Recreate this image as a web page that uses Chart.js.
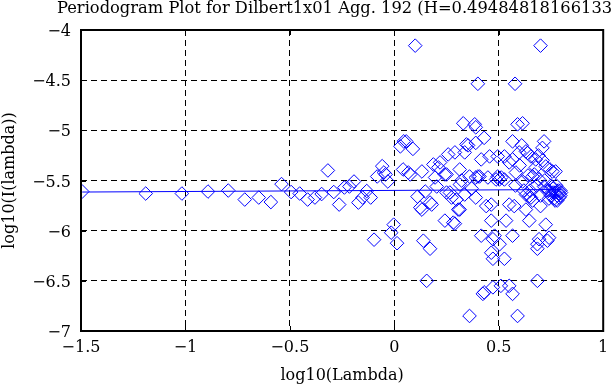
<!DOCTYPE html>
<html><head><meta charset="utf-8">
<script src="https://cdn.jsdelivr.net/npm/chart.js@4/dist/chart.umd.min.js"></script>
<style>html,body{margin:0;padding:0;background:#fff;overflow:hidden;}</style>
</head><body>
<canvas id="c" width="611" height="385"></canvas>
<script>
const chartTitle = "Periodogram Plot for Dilbert1x01 Agg. 192 (H=0.49484818166133)";
const xAxisLabel = "log10(Lambda)";
const yAxisLabel = "log10(I(lambda))";
const xTicks = [-1.5, -1, -0.5, 0, 0.5, 1];
const yTicks = [-7, -6.5, -6, -5.5, -5, -4.5, -4];

const logLambda = [
-1.494,-1.19,-1.017,-0.892,-0.795,-0.716,-0.649,-0.591,-0.54,-0.494,
-0.453,-0.415,-0.380,-0.348,-0.318,-0.290,-0.264,-0.239,-0.215,-0.193,
-0.172,-0.152,-0.132,-0.113,-0.097,-0.082,-0.058,-0.05,-0.042,-0.031,
-0.015,-0.003,0.013,0.029,0.042,0.045,0.057,0.067,0.076,0.089,
0.10,0.111,0.124,0.132,0.132,0.139,0.148,0.155,0.171,0.171,
0.179,0.187,0.195,0.203,0.211,0.219,0.242,0.242,0.25,0.25,
0.258,0.266,0.274,0.282,0.29,0.29,0.298,0.306,0.313,0.313,
0.314,0.322,0.33,0.337,0.337,0.345,0.353,0.36,0.36,0.37,
0.385,0.39,0.39,0.39,0.39,0.40,0.40,0.408,0.416,0.416,
0.424,0.43,0.43,0.44,0.448,0.456,0.464,0.464,0.464,0.472,
0.472,0.472,0.48,0.487,0.495,0.495,0.503,0.504,0.51,0.512,
0.527,0.527,0.527,0.535,0.55,0.55,0.55,0.566,0.566,0.566,
0.566,0.574,0.578,0.58,0.582,0.59,0.59,0.598,0.60,0.61,
0.614,0.614,0.62,0.63,0.63,0.63,0.638,0.64,0.646,0.646,
0.65,0.654,0.654,0.662,0.662,0.67,0.677,0.677,0.68,0.685,
0.685,0.685,0.69,0.693,0.693,0.70,0.70,0.70,0.709,0.71,
0.717,0.717,0.72,0.725,0.725,0.73,0.733,0.74,0.74,0.741,
0.745,0.75,0.75,0.757,0.76,0.76,0.765,0.77,0.77,0.772,
0.775,0.78,0.78,0.785,0.79,0.79,0.795,0.795,0.798
];
const logPeriodogram = [
-5.61,-5.63,-5.63,-5.61,-5.60,-5.69,-5.67,-5.715,-5.536,-5.615,
-5.63,-5.69,-5.67,-5.635,-5.40,-5.615,-5.74,-5.57,-5.56,-5.51,
-5.72,-5.67,-5.605,-5.67,-6.09,-5.46,-5.357,-5.42,-5.44,-5.51,
-6.02,-5.94,-6.125,-5.16,-5.39,-5.11,-5.11,-5.42,-5.44,-5.185,
-4.156,-5.66,-5.77,-5.41,-5.79,-6.10,-5.61,-6.50,-6.18,-5.72,
-5.74,-5.34,-5.47,-5.56,-5.37,-5.32,-5.44,-5.90,-5.62,-5.44,
-5.24,-5.62,-5.67,-5.92,-5.22,-5.93,-5.69,-5.79,-5.39,-5.79,
-5.54,-5.50,-4.93,-5.22,-5.64,-5.14,-5.15,-5.46,-6.85,-5.58,
-4.94,-4.97,-5.125,-5.47,-5.67,-4.536,-5.46,-5.46,-5.29,-6.05,
-6.63,-5.075,-6.615,-5.755,-5.47,-5.26,-5.74,-5.90,-6.22,-6.085,
-6.28,-6.565,-6.05,-5.49,-5.26,-5.46,-5.49,-6.135,-6.55,-5.47,
-5.26,-5.49,-6.28,-5.90,-5.32,-5.74,-6.55,-5.11,-5.29,-6.05,
-6.63,-5.755,-4.536,-5.55,-5.42,-4.94,-6.85,-5.22,-5.35,-5.15,
-4.93,-5.51,-5.60,-5.21,-5.64,-5.79,-5.225,-5.45,-5.655,-5.90,
-5.60,-5.26,-5.67,-5.46,-5.70,-5.44,-5.29,-5.37,-5.55,-6.135,
-6.18,-6.50,-5.25,-5.49,-6.085,-4.156,-5.755,-5.65,-5.175,-5.30,
-5.11,-5.56,-5.50,-5.36,-5.94,-5.60,-6.10,-5.60,-5.68,-6.07,
-5.39,-5.65,-5.55,-5.41,-5.58,-5.62,-5.68,-5.62,-5.70,-5.41,
-5.55,-5.65,-5.70,-5.60,-5.63,-5.67,-5.60,-5.65,-5.62
];
const fitX = [-1.494, 0.798];
const fitY = [-5.615, -5.59];

const BLUE = '#0000ff';
const FONT = {family: '"DejaVu Serif", serif', size: 16};
const fmt = v => (v < 0 ? '\u2212' : '') + String(Math.abs(v));

const framePlugin = {
  id: 'frame',
  afterDraw(chart) {
    const {ctx, chartArea: a, scales} = chart;
    ctx.save();
    ctx.strokeStyle = '#000';
    ctx.lineWidth = 1;
    ctx.setLineDash([]);
    ctx.beginPath();
    const tl = 5;
    xTicks.forEach(v => {
      const px = Math.round(scales.x.getPixelForValue(v)) + 0.5;
      ctx.moveTo(px, a.bottom); ctx.lineTo(px, a.bottom - tl);
      ctx.moveTo(px, a.top); ctx.lineTo(px, a.top + tl);
    });
    yTicks.forEach(v => {
      const py = Math.round(scales.y.getPixelForValue(v)) + 0.5;
      ctx.moveTo(a.left, py); ctx.lineTo(a.left + tl, py);
      ctx.moveTo(a.right, py); ctx.lineTo(a.right - tl, py);
    });
    ctx.stroke();
    ctx.lineWidth = 2;
    ctx.strokeRect(a.left, a.top, a.right - a.left, a.bottom - a.top);
    ctx.fillStyle = '#000';
    ctx.font = '16.3px "DejaVu Serif", serif';
    ctx.textAlign = 'left';
    ctx.textBaseline = 'alphabetic';
    ctx.fillText(chartTitle, 57, 13);
    ctx.restore();
  }
};

new Chart(document.getElementById('c'), {
  type: 'scatter',
  data: {
    datasets: [
      {
        type: 'line',
        data: fitX.map((x, i) => ({x, y: fitY[i]})),
        borderColor: BLUE, borderWidth: 1, pointRadius: 0, fill: false, order: 2
      },
      {
        data: logLambda.map((x, i) => ({x, y: logPeriodogram[i]})),
        pointStyle: 'rectRot', pointRadius: 6.8, borderWidth: 1,
        borderColor: BLUE, backgroundColor: 'rgba(0,0,0,0)', order: 1
      }
    ]
  },
  options: {
    responsive: false, animation: false, devicePixelRatio: 1,
    events: [],
    layout: {padding: {top: 30, right: 1, left: 0, bottom: 0}},
    plugins: {legend: {display: false}, tooltip: {enabled: false}},
    scales: {
      x: {
        type: 'linear', min: -1.5, max: 1,
        afterBuildTicks: s => { s.ticks = xTicks.map(v => ({value: v})); },
        afterFit: s => { s.height = 54; s.paddingLeft = 0; s.paddingRight = 0; },
        ticks: {callback: v => fmt(v), font: FONT, color: '#000', padding: 7, maxRotation: 0},
        grid: {color: '#000', lineWidth: 1, drawTicks: false},
        border: {display: false, dash: [6, 4]},
        title: {display: true, text: xAxisLabel, font: FONT, color: '#000', padding: {top: 2, bottom: 0}}
      },
      y: {
        type: 'linear', min: -7, max: -4,
        afterBuildTicks: s => { s.ticks = yTicks.map(v => ({value: v})); },
        afterFit: s => { s.width = 81; s.paddingTop = 0; s.paddingBottom = 0; },
        ticks: {callback: v => fmt(v), font: FONT, color: '#000', padding: 10, labelOffset: 2},
        grid: {color: '#000', lineWidth: 1, drawTicks: false},
        border: {display: false, dash: [6, 4]},
        title: {display: true, text: yAxisLabel, font: FONT, color: '#000', padding: {top: 0, bottom: 0}}
      }
    }
  },
  plugins: [framePlugin]
});
</script>
</body></html>
